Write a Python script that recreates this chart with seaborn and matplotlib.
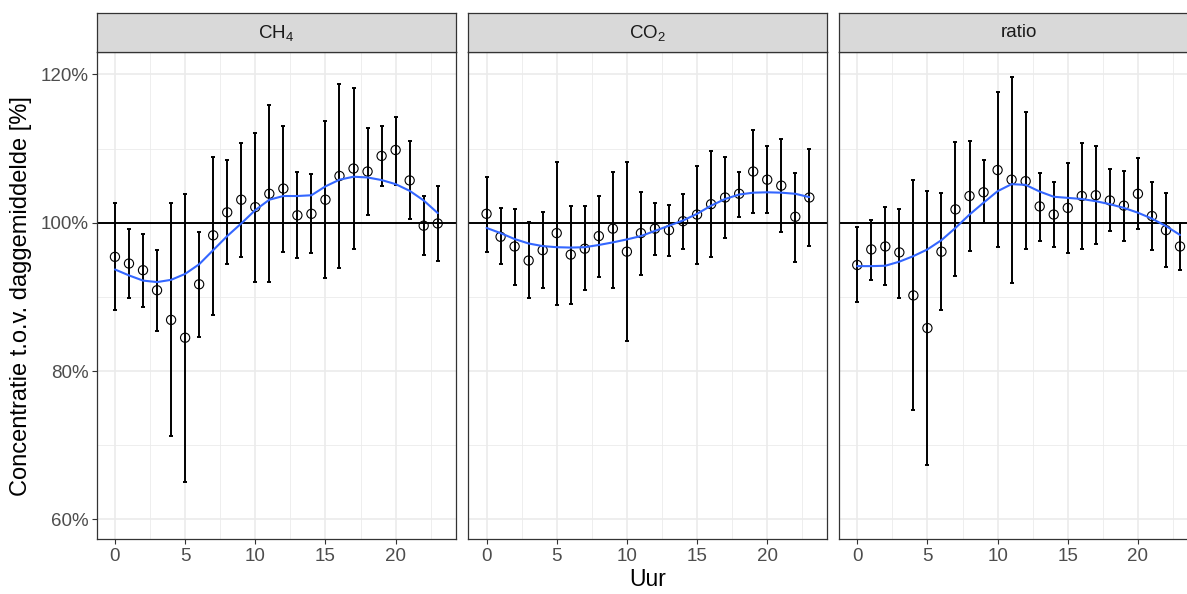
import numpy as np
import pandas as pd
import matplotlib
matplotlib.use("Agg")
import matplotlib.pyplot as plt
import seaborn as sns

# ---------------- data ----------------
hours = list(range(24))
panels = ["CH$_4$", "CO$_2$", "ratio"]

ch4_mean = [95.4, 94.5, 93.6, 90.9, 86.9, 84.5, 91.7, 98.3, 101.4, 103.1, 102.1, 103.9,
            104.6, 101.0, 101.2, 103.1, 106.3, 107.3, 106.9, 109.0, 109.8, 105.7, 99.6, 99.9]
ch4_low = [88.3, 89.9, 88.7, 85.4, 71.2, 65.1, 84.6, 87.6, 94.4, 95.4, 92.0, 92.0,
           96.1, 95.2, 95.9, 92.5, 93.9, 96.5, 101.0, 105.0, 105.1, 100.5, 95.6, 94.8]
ch4_high = [102.6, 99.2, 98.5, 96.3, 102.7, 103.9, 98.8, 108.9, 108.5, 110.8, 112.1, 115.8,
            113.1, 106.8, 106.6, 113.7, 118.7, 118.2, 112.8, 113.1, 114.3, 111.0, 103.6, 104.9]
ch4_smooth = [93.7, 92.9, 92.2, 92.0, 92.3, 93.1, 94.4, 96.3, 98.2, 99.9, 101.7, 103.1,
              103.6, 103.6, 103.7, 104.9, 105.8, 106.2, 106.1, 105.75, 105.2, 104.3, 103.0, 101.3]

co2_mean = [101.2, 98.1, 96.8, 94.9, 96.3, 98.6, 95.7, 96.5, 98.2, 99.2, 96.1, 98.6,
            99.2, 99.0, 100.2, 101.1, 102.5, 103.4, 103.9, 106.9, 105.8, 105.0, 100.8, 103.4]
co2_low = [96.1, 94.4, 91.6, 89.8, 91.2, 88.9, 89.1, 90.9, 92.7, 91.2, 84.0, 93.0,
           95.7, 95.5, 96.5, 94.4, 95.4, 97.9, 100.8, 101.3, 101.3, 98.7, 94.7, 96.9]
co2_high = [106.2, 102.0, 101.9, 100.1, 101.5, 108.2, 102.3, 102.3, 103.6, 106.9, 108.2, 104.1,
            102.6, 102.4, 103.9, 107.6, 109.6, 108.8, 106.8, 112.5, 110.4, 111.3, 106.7, 110.0]
co2_smooth = [99.3, 98.6, 97.8, 97.2, 96.85, 96.7, 96.65, 96.7, 97.0, 97.35, 97.75, 98.2,
              98.9, 99.6, 100.3, 101.2, 102.3, 103.2, 103.8, 104.05, 104.1, 104.05, 103.9, 103.45]

ratio_mean = [94.3, 96.4, 96.8, 96.0, 90.2, 85.8, 96.1, 101.8, 103.6, 104.1, 107.1, 105.8,
              105.6, 102.2, 101.1, 102.0, 103.6, 103.7, 103.0, 102.3, 103.9, 100.9, 99.0, 96.8]
ratio_low = [89.3, 92.3, 91.6, 89.9, 74.7, 67.4, 88.3, 92.8, 96.2, 99.9, 96.7, 91.9,
             96.4, 97.6, 96.7, 95.9, 96.4, 97.1, 98.9, 97.5, 99.1, 96.3, 94.0, 93.6]
ratio_high = [99.4, 100.3, 102.1, 101.8, 105.7, 104.3, 104.0, 110.9, 111.0, 108.4, 117.6, 119.6,
              114.9, 106.7, 105.5, 108.0, 110.8, 110.4, 107.2, 107.0, 108.7, 105.5, 104.0, 99.9]
ratio_smooth = [94.15, 94.15, 94.2, 94.75, 95.5, 96.4, 97.65, 99.3, 101.1, 102.7, 104.25, 105.2,
                105.1, 104.2, 103.5, 103.35, 103.2, 102.9, 102.5, 102.0, 101.35, 100.55, 99.55, 98.35]

x_ticks = [0, 5, 10, 15, 20]
y_ticks = [60, 80, 100, 120]
y_tick_labels = ["60%", "80%", "100%", "120%"]
x_title = "Uur"
y_title = "Concentratie t.o.v. daggemiddelde [%]"

frames = []
for name, m, lo, hi, sm in [(panels[0], ch4_mean, ch4_low, ch4_high, ch4_smooth),
                            (panels[1], co2_mean, co2_low, co2_high, co2_smooth),
                            (panels[2], ratio_mean, ratio_low, ratio_high, ratio_smooth)]:
    frames.append(pd.DataFrame({"panel": name, "hour": hours, "mean": m,
                                "low": lo, "high": hi, "smooth": sm}))
df = pd.concat(frames, ignore_index=True)

# ---------------- style ----------------
sns.set_theme(style="white")
plt.rcParams["font.family"] = ["Liberation Sans", "DejaVu Sans"]
plt.rcParams["mathtext.fontset"] = "custom"
plt.rcParams["mathtext.rm"] = "Liberation Sans"
plt.rcParams["mathtext.it"] = "Liberation Sans:italic"
plt.rcParams["mathtext.default"] = "rm"

W, H = 1187, 594
fig = plt.figure(figsize=(W / 100, H / 100), dpi=100)
fig.patch.set_facecolor("white")

lefts = [96.7, 468.3, 839.0]
pw = 359.0
p_top, p_bot = 52.3, 539.3
s_top = 13.3

grid_col = "#EBEBEB"
border = "#333333"
tick_col = "#4D4D4D"

for i, name in enumerate(panels):
    sub = df[df["panel"] == name]
    ax = fig.add_axes([lefts[i] / W, 1 - p_bot / H, pw / W, (p_bot - p_top) / H])
    ax.set_facecolor("white")
    ax.set_xlim(-1.3, 24.28)
    ax.set_ylim(57.33, 122.97)

    # grid
    for v in [2.5, 7.5, 12.5, 17.5, 22.5]:
        ax.axvline(v, color=grid_col, lw=0.6, zorder=0)
    for v in [70, 90, 110]:
        ax.axhline(v, color=grid_col, lw=0.6, zorder=0)
    for v in x_ticks:
        ax.axvline(v, color=grid_col, lw=1.2, zorder=0)
    for v in y_ticks:
        ax.axhline(v, color=grid_col, lw=1.2, zorder=0)

    ax.axhline(100, color="black", lw=1.4, zorder=1)

    ax.errorbar(sub["hour"], sub["mean"],
                yerr=[sub["mean"] - sub["low"], sub["high"] - sub["mean"]],
                fmt="none", ecolor="black", elinewidth=1.4, capsize=1.6, capthick=1.4, zorder=2)

    sns.scatterplot(data=sub, x="hour", y="mean", ax=ax, s=44, marker="o",
                    facecolor="none", edgecolor="black", linewidth=0.8, zorder=3)

    sns.lineplot(data=sub, x="hour", y="smooth", ax=ax, color="#3366FF", lw=1.5, zorder=4)

    ax.set_xticks(x_ticks)
    ax.set_yticks(y_ticks)
    ax.set_xticklabels([str(t) for t in x_ticks])
    if i == 0:
        ax.set_yticklabels(y_tick_labels)
    else:
        ax.set_yticklabels([])
    ax.tick_params(axis="both", which="both", length=3.5, width=0.8, color=border,
                   labelcolor=tick_col, labelsize=13.5, pad=2.5,
                   bottom=True, left=(i == 0), top=False, right=False)
    if i != 0:
        ax.tick_params(axis="y", left=False)
    ax.set_xlabel("")
    ax.set_ylabel("")
    for sp in ax.spines.values():
        sp.set_visible(True)
        sp.set_color(border)
        sp.set_linewidth(0.9)

    # strip
    sax = fig.add_axes([lefts[i] / W, 1 - p_top / H, pw / W, (p_top - s_top) / H])
    sax.set_facecolor("#D9D9D9")
    sax.set_xticks([])
    sax.set_yticks([])
    for sp in sax.spines.values():
        sp.set_visible(True)
        sp.set_color(border)
        sp.set_linewidth(0.9)
    sax.text(0.5, 0.5, name, ha="center", va="center", fontsize=13.5,
             color="#1A1A1A", transform=sax.transAxes)

fig.text(648 / W, 1 - 580 / H, x_title, ha="center", va="center", fontsize=16.5, color="black")
fig.text(21 / W, 1 - ((p_top + p_bot) / 2) / H, y_title, ha="center", va="center",
         rotation=90, fontsize=17, color="black")

fig.savefig("out.png", dpi=100, facecolor="white")
